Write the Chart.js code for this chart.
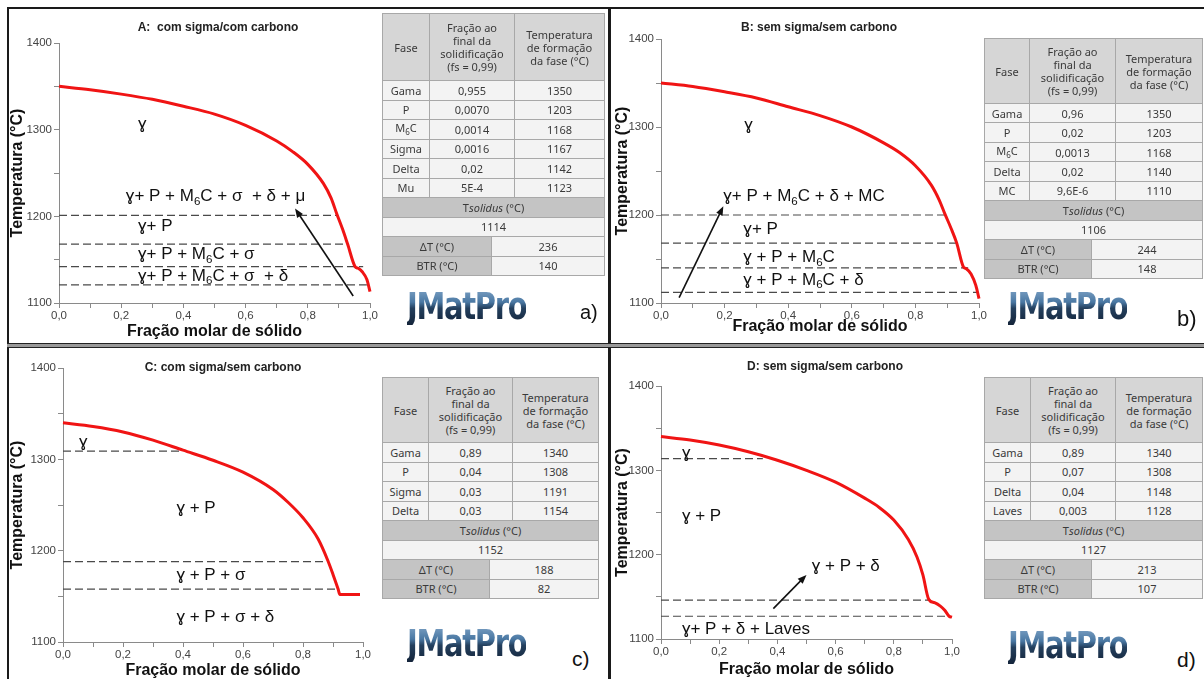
<!DOCTYPE html>
<html>
<head>
<meta charset="utf-8">
<script src="https://cdn.jsdelivr.net/npm/chart.js@4.4.1/dist/chart.umd.min.js"></script>
<style>
  body { margin:0; width:1204px; height:679px; overflow:hidden; background:#fff; position:relative; font-family:"Liberation Sans", Arial, sans-serif; }
  canvas { position:absolute; }
  .ln { position:absolute; background:#1a1a1a; }
  .tit { position:absolute; font:bold 12px "Liberation Sans", Arial, sans-serif; color:#222; transform:translate(-50%,-50%); white-space:nowrap; }
  .logo { position:absolute; font:bold 37px "Liberation Sans Narrow", "DejaVu Sans Condensed", sans-serif; line-height:1; letter-spacing:-1.5px;
          transform:scaleX(0.87); transform-origin:left top;
          background:linear-gradient(180deg,#7fa3c6 0%,#4a78a3 38%,#24405e 55%,#14243a 100%);
          -webkit-background-clip:text; background-clip:text; color:transparent; }
  .letra { position:absolute; font:21px "Liberation Sans", Arial, sans-serif; line-height:1; color:#111; }
  table.t { position:absolute; border-collapse:collapse; table-layout:fixed; font:11px "Noto Sans", sans-serif; color:#3a3a3a; }
  table.t td, table.t th { border:1px solid #a8a8a8; text-align:center; padding:0; font-weight:normal; line-height:13px; background:#f3f3f3; overflow:hidden; white-space:nowrap; }
  table.t th { background:#d6d6d6; }
  table.t td.g { background:#c4c4c4; }
  table.t sub { font-size:8px; }
</style>
</head>
<body>

<script>
// ===== Painel A: com sigma/com carbono =====
const curvaA_fs = [0, 0.1, 0.2, 0.3, 0.4, 0.5, 0.6, 0.7, 0.75, 0.8, 0.85, 0.875, 0.893, 0.912, 0.928, 0.952, 0.962, 0.975, 0.99, 1.0];
const curvaA_T  = [1350, 1346, 1341, 1335, 1327, 1318, 1305, 1287, 1275, 1260, 1238, 1221, 1203, 1185, 1168, 1142, 1140, 1136, 1127, 1113];
const tracA_T   = [1201, 1168, 1142, 1121];
const tracA_fim = [0.893, 0.93, 0.978, 0.99];
const rotA_txt  = ['ɣ', 'ɣ+ P + M_6C + σ  + δ + μ', 'ɣ+ P', 'ɣ+ P + M_6C + σ', 'ɣ+ P + M_6C + σ  + δ'];
const rotA_fs   = [0.254, 0.215, 0.254, 0.254, 0.254];
const rotA_T    = [1306, 1223, 1188, 1156, 1131];
const setaA     = [0.946, 1108, 0.759, 1209];
const tabA_fase = ['Gama', 'P', 'M_6C', 'Sigma', 'Delta', 'Mu'];
const tabA_frac = ['0,955', '0,0070', '0,0014', '0,0016', '0,02', '5E-4'];
const tabA_temp = [1350, 1203, 1168, 1167, 1142, 1123];
const tabA_res  = [1114, 236, 140]; // Tsolidus, ΔT, BTR

// ===== Painel B: sem sigma/sem carbono =====
const curvaB_fs = [0, 0.1, 0.2, 0.3, 0.4, 0.5, 0.6, 0.7, 0.75, 0.8, 0.85, 0.875, 0.893, 0.912, 0.93, 0.951, 0.96, 0.975, 0.99, 1.0];
const curvaB_T  = [1350, 1346, 1340, 1333, 1323, 1313, 1300, 1282, 1271, 1256, 1234, 1217, 1201, 1185, 1168, 1141, 1139, 1133, 1120, 1105];
const tracB_T   = [1200, 1168, 1140, 1112];
const tracB_fim = [0.893, 0.935, 0.966, 0.998];
const rotB_txt  = ['ɣ', 'ɣ+ P + M_6C + δ + MC', 'ɣ+ P', 'ɣ + P + M_6C', 'ɣ + P + M_6C + δ'];
const rotB_fs   = [0.262, 0.196, 0.259, 0.259, 0.259];
const rotB_T    = [1302, 1221, 1184, 1152, 1126];
const setaB     = [0.057, 1106, 0.196, 1210];
const tabB_fase = ['Gama', 'P', 'M_6C', 'Delta', 'MC'];
const tabB_frac = ['0,96', '0,02', '0,0013', '0,02', '9,6E-6'];
const tabB_temp = [1350, 1203, 1168, 1140, 1110];
const tabB_res  = [1106, 244, 148];

// ===== Painel C: com sigma/sem carbono =====
const curvaC_fs = [0, 0.1, 0.2, 0.3, 0.4, 0.5, 0.6, 0.7, 0.75, 0.8, 0.85, 0.883, 0.9, 0.917, 0.923, 0.95, 0.99];
const curvaC_T  = [1340, 1336, 1330, 1321, 1310, 1299, 1286, 1267, 1253, 1236, 1213, 1189, 1174, 1158, 1152, 1152, 1152];
const tracC_T   = [1309, 1188, 1158];
const tracC_fim = [0.4, 0.883, 0.92];
const rotC_txt  = ['ɣ', 'ɣ + P', 'ɣ + P + σ', 'ɣ + P + σ + δ'];
const rotC_fs   = [0.053, 0.378, 0.378, 0.378];
const rotC_T    = [1319, 1246, 1173, 1127];
const tabC_fase = ['Gama', 'P', 'Sigma', 'Delta'];
const tabC_frac = ['0,89', '0,04', '0,03', '0,03'];
const tabC_temp = [1340, 1308, 1191, 1154];
const tabC_res  = [1152, 188, 82];

// ===== Painel D: sem sigma/sem carbono =====
const curvaD_fs = [0, 0.1, 0.2, 0.3, 0.4, 0.5, 0.6, 0.7, 0.75, 0.8, 0.85, 0.88, 0.9, 0.92, 0.94, 0.96, 0.975, 0.99, 1.0];
const curvaD_T  = [1340, 1336, 1330, 1322, 1312, 1300, 1286, 1267, 1256, 1241, 1218, 1197, 1176, 1147, 1143, 1139, 1134, 1127, 1126];
const tracD_T   = [1314, 1146, 1127];
const tracD_fim = [0.35, 0.918, 0.99];
const rotD_txt  = ['ɣ', 'ɣ + P', 'ɣ + P + δ', 'ɣ+ P + δ + Laves'];
const rotD_fs   = [0.072, 0.072, 0.518, 0.072];
const rotD_T    = [1320, 1245, 1186, 1111];
const setaD     = [0.386, 1136, 0.5, 1176];
const tabD_fase = ['Gama', 'P', 'Delta', 'Laves'];
const tabD_frac = ['0,89', '0,07', '0,04', '0,003'];
const tabD_temp = [1340, 1308, 1148, 1128];
const tabD_res  = [1127, 213, 107];

const FONTE = '"Liberation Sans", Arial, sans-serif';

// texto com subindice: "M_6C" -> M + 6 (pequeno) + C
function textoRico(ctx, txt, x, y, tam) {
    var partes = txt.split(/(_\d)/);
    var cx = x;
    partes.forEach(function (p) {
        if (!p) return;
        if (p[0] === '_') {
            ctx.font = (tam * 0.68) + 'px ' + FONTE;
            ctx.fillText(p[1], cx, y + tam * 0.3);
            cx += ctx.measureText(p[1]).width;
        } else {
            ctx.font = tam + 'px ' + FONTE;
            ctx.fillText(p, cx, y);
            cx += ctx.measureText(p).width;
        }
    });
}

// plugin para rotulos das regioes e setas
const pluginAnot = {
    id: 'anot',
    afterDatasetsDraw(chart, args, opts) {
        const ctx = chart.ctx, sx = chart.scales.x, sy = chart.scales.y;
        ctx.save();
        ctx.fillStyle = '#111';
        ctx.textBaseline = 'middle';
        opts.txt.forEach(function (t, i) {
            textoRico(ctx, t, sx.getPixelForValue(opts.fs[i]), sy.getPixelForValue(opts.T[i]), 17);
        });
        if (opts.seta) {
            const s = opts.seta;
            const x0 = sx.getPixelForValue(s[0]), y0 = sy.getPixelForValue(s[1]);
            const x1 = sx.getPixelForValue(s[2]), y1 = sy.getPixelForValue(s[3]);
            const ang = Math.atan2(y1 - y0, x1 - x0);
            ctx.strokeStyle = '#111';
            ctx.lineWidth = 1.6;
            ctx.beginPath();
            ctx.moveTo(x0, y0);
            ctx.lineTo(x1 - 6 * Math.cos(ang), y1 - 6 * Math.sin(ang));
            ctx.stroke();
            ctx.beginPath();
            ctx.moveTo(x1, y1);
            ctx.lineTo(x1 - 9 * Math.cos(ang) + 3.5 * Math.sin(ang), y1 - 9 * Math.sin(ang) - 3.5 * Math.cos(ang));
            ctx.lineTo(x1 - 9 * Math.cos(ang) - 3.5 * Math.sin(ang), y1 - 9 * Math.sin(ang) + 3.5 * Math.cos(ang));
            ctx.closePath();
            ctx.fill();
        }
        ctx.restore();
    }
};

// lay = [left, top, width, height, larguraEixoY, padTopo, padDireita, alturaEixoX]
function criarGrafico(lay, fs, T, tracT, tracFim, rTxt, rFs, rT, seta) {
    const cv = document.createElement('canvas');
    cv.width = lay[2]; cv.height = lay[3];
    cv.style.left = lay[0] + 'px'; cv.style.top = lay[1] + 'px';
    cv.style.width = lay[2] + 'px'; cv.style.height = lay[3] + 'px';
    document.body.appendChild(cv);

    const datasets = [{
        data: fs.map(function (v, i) { return { x: v, y: T[i] }; }),
        borderColor: '#f01414', borderWidth: 3, pointRadius: 0,
        cubicInterpolationMode: 'monotone', clip: false
    }];
    tracT.forEach(function (t, i) {
        datasets.push({
            data: [{ x: 0, y: t }, { x: tracFim[i], y: t }],
            borderColor: '#4a4a4a', borderWidth: 1.2, borderDash: [8, 4], pointRadius: 0
        });
    });

    const eixo = { color: '#444', font: { family: FONTE, size: 11.5 } };
    new Chart(cv, {
        type: 'line',
        data: { datasets: datasets },
        plugins: [pluginAnot],
        options: {
            responsive: false, animation: false, devicePixelRatio: 1,
            layout: { padding: { left: 0, top: lay[5], right: lay[6], bottom: 0 } },
            plugins: {
                legend: { display: false }, tooltip: { enabled: false },
                anot: { txt: rTxt, fs: rFs, T: rT, seta: seta }
            },
            scales: {
                x: {
                    type: 'linear', min: 0, max: 1,
                    border: { color: '#8a8a8a' },
                    grid: { drawOnChartArea: false, tickLength: 5, tickColor: '#8a8a8a' },
                    ticks: Object.assign({}, eixo, {
                        stepSize: 0.1, autoSkip: false, maxRotation: 0, padding: 1,
                        callback: function (v, i) { return i % 2 ? '' : v.toFixed(1).replace('.', ','); }
                    }),
                    title: { display: true, text: 'Fração molar de sólido', color: '#111', padding: 0,
                             font: { family: FONTE, size: 16, weight: 'bold' } },
                    afterFit: function (s) { s.height = lay[7]; }
                },
                y: {
                    min: 1100, max: 1400,
                    border: { color: '#8a8a8a' },
                    grid: { drawOnChartArea: false, tickLength: 5, tickColor: '#8a8a8a' },
                    ticks: Object.assign({}, eixo, {
                        stepSize: 50, padding: 2,
                        callback: function (v) { return v % 100 ? '' : v; }
                    }),
                    title: { display: true, text: 'Temperatura (°C)', color: '#111', padding: 0,
                             font: { family: FONTE, size: 16, weight: 'bold' } },
                    afterFit: function (s) { s.width = lay[4]; }
                }
            }
        }
    });
}

function sub(t) { return t.replace(/_(\d)/, '<sub>$1</sub>'); }

// tl = [left, top, col1, col2, col3, larguraDT, altCab, altLinha]
function criarTabela(tl, fase, frac, temp, res) {
    var w = tl[2] + tl[3] + tl[4];
    var h = '<table class="t" style="left:' + tl[0] + 'px;top:' + tl[1] + 'px;width:' + w + 'px">';
    h += '<colgroup><col style="width:' + tl[2] + 'px"><col style="width:' + (tl[5] - tl[2]) + 'px">' +
         '<col style="width:' + (tl[2] + tl[3] - tl[5]) + 'px"><col style="width:' + tl[4] + 'px"></colgroup>';
    h += '<tr style="height:' + tl[6] + 'px"><th>Fase</th><th colspan="2">Fração ao<br>final da<br>solidificação<br>(fs = 0,99)</th>' +
         '<th>Temperatura<br>de formação<br>da fase (°C)</th></tr>';
    var rh = 'style="height:' + tl[7] + 'px"';
    fase.forEach(function (f, i) {
        h += '<tr ' + rh + '><td>' + sub(f) + '</td><td colspan="2">' + frac[i] + '</td><td>' + temp[i] + '</td></tr>';
    });
    h += '<tr ' + rh + '><td class="g" colspan="4">T<i>solidus</i> (°C)</td></tr>';
    h += '<tr ' + rh + '><td colspan="4">' + res[0] + '</td></tr>';
    h += '<tr ' + rh + '><td class="g" colspan="2">ΔT (°C)</td><td colspan="2">' + res[1] + '</td></tr>';
    h += '<tr ' + rh + '><td class="g" colspan="2">BTR (°C)</td><td colspan="2">' + res[2] + '</td></tr>';
    h += '</table>';
    document.body.insertAdjacentHTML('beforeend', h);
}

function div(cls, css, txt) {
    document.body.insertAdjacentHTML('beforeend', '<div class="' + cls + '" style="' + css + '">' + txt + '</div>');
}

// molduras
div('ln', 'left:7px;top:7px;width:1197px;height:2px', '');
div('ln', 'left:7px;top:7px;width:2px;height:672px', '');
div('ln', 'left:608px;top:7px;width:3px;height:672px', '');
div('ln', 'left:7px;top:343px;width:1197px;height:3px;background:#999;border-top:1px solid #222;border-bottom:1px solid #222', '');

criarGrafico([8, 8, 372, 333, 51, 35, 10, 38], curvaA_fs, curvaA_T, tracA_T, tracA_fim, rotA_txt, rotA_fs, rotA_T, setaA);
criarGrafico([613, 8, 376, 328, 48, 31, 10, 33], curvaB_fs, curvaB_T, tracB_T, tracB_fim, rotB_txt, rotB_fs, rotB_T, setaB);
criarGrafico([8, 345, 365, 335, 55, 23, 10, 38], curvaC_fs, curvaC_T, tracC_T, tracC_fim, rotC_txt, rotC_fs, rotC_T, null);
criarGrafico([613, 348, 349, 331, 48, 38, 10, 40], curvaD_fs, curvaD_T, tracD_T, tracD_fim, rotD_txt, rotD_fs, rotD_T, setaD);

div('tit', 'left:218px;top:27px', 'A:&nbsp; com sigma/com carbono');
div('tit', 'left:819px;top:27px', 'B: sem sigma/sem carbono');
div('tit', 'left:223px;top:367px', 'C: com sigma/sem carbono');
div('tit', 'left:825px;top:366px', 'D: sem sigma/sem carbono');

criarTabela([382, 13, 47, 85, 90, 109, 67, 19.5], tabA_fase, tabA_frac, tabA_temp, tabA_res);
criarTabela([984, 38, 45, 86, 87, 107, 65, 19.45], tabB_fase, tabB_frac, tabB_temp, tabB_res);
criarTabela([382, 377, 46, 84, 86, 107, 65, 19.5], tabC_fase, tabC_frac, tabC_temp, tabC_res);
criarTabela([984, 377, 46, 85, 87, 107, 65, 19.5], tabD_fase, tabD_frac, tabD_temp, tabD_res);

div('logo', 'left:407px;top:288px', 'JMatPro');
div('logo', 'left:1008px;top:288px', 'JMatPro');
div('logo', 'left:407px;top:625px', 'JMatPro');
div('logo', 'left:1008px;top:627px', 'JMatPro');

div('letra', 'left:580px;top:302px;font-size:20px', 'a)');
div('letra', 'left:1177px;top:308px;font-size:22px', 'b)');
div('letra', 'left:572px;top:648px', 'c)');
div('letra', 'left:1177px;top:649px', 'd)');
</script>
</body>
</html>
